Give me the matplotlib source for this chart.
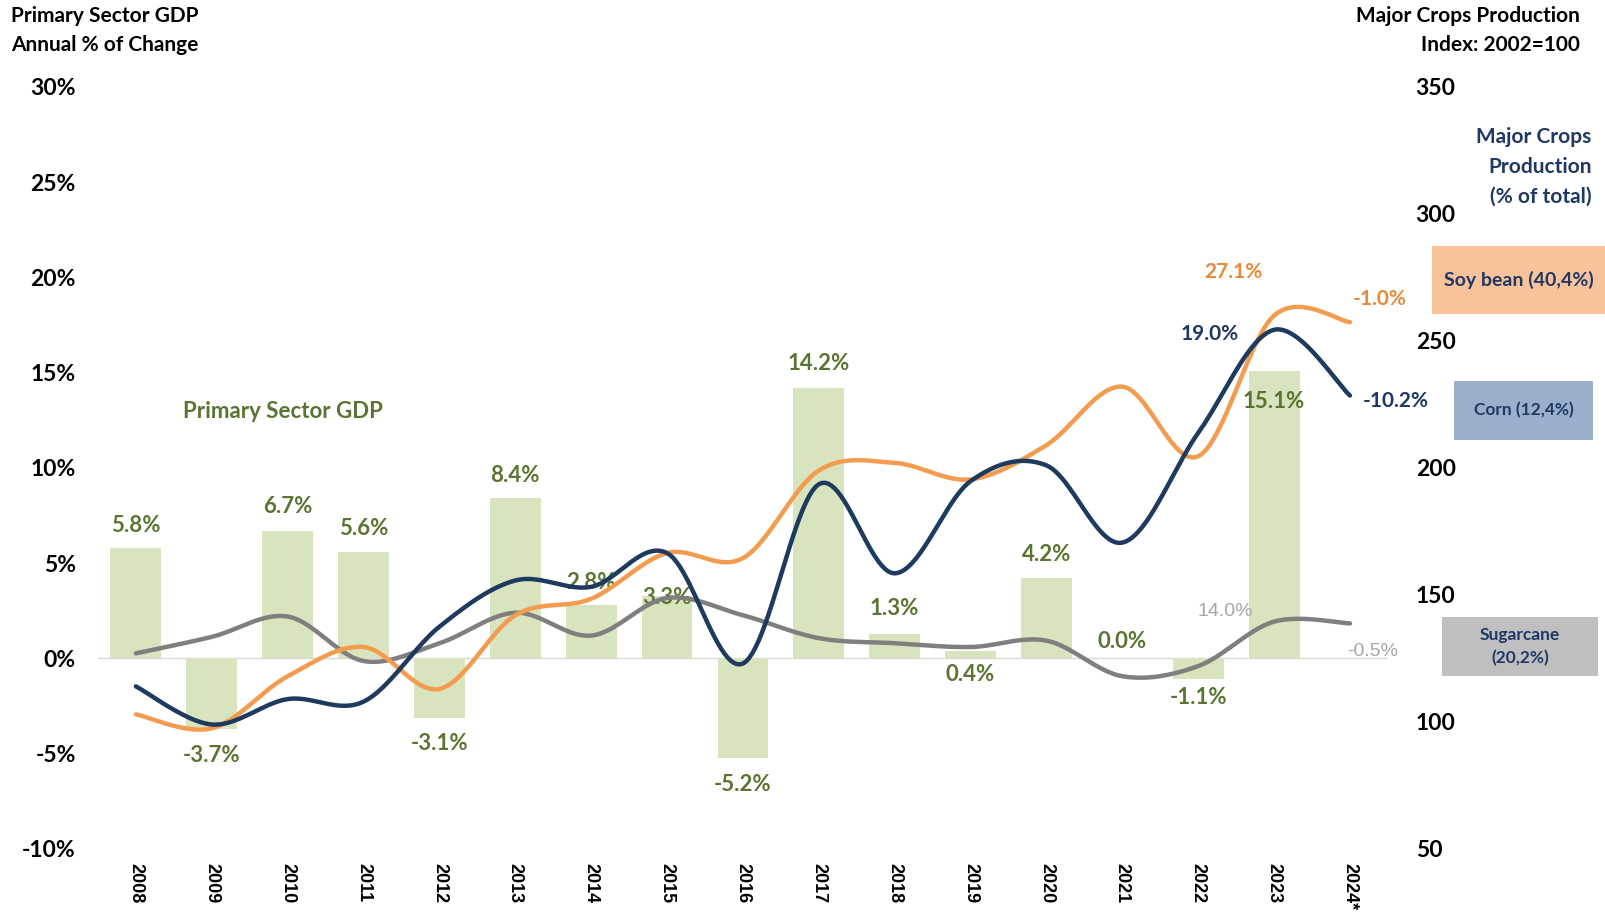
import numpy as np
import matplotlib.pyplot as plt
from matplotlib.patches import Rectangle

years = ["2008", "2009", "2010", "2011", "2012", "2013", "2014", "2015", "2016",
         "2017", "2018", "2019", "2020", "2021", "2022", "2023", "2024*"]
gdp = [5.8, -3.7, 6.7, 5.6, -3.1, 8.4, 2.8, 3.3, -5.2, 14.2, 1.3, 0.4, 4.2, 0.0, -1.1, 15.1, np.nan]
soy = [103, 97.5, 118, 129.5, 113, 142, 148.5, 166.5, 164.5, 199, 202, 195.5, 209, 232, 204.6, 260, 257.4]
corn = [114, 99, 109, 108, 137.5, 155.7, 153.2, 166.5, 123, 193.6, 158.5, 194.8, 201, 170.6, 213.8, 254.4, 228.5]
sugar = [127, 133.5, 141.5, 124, 131, 143, 134, 148.8, 142, 133, 131, 129.5, 132, 118, 122, 139.5, 138.8]

# label offsets for the bar values (in % points)
gdp_off = [1.2, -1.4, 1.25, 1.2, -1.35, 1.2, 1.2, -0.1, -1.4, 1.3, 1.3, -1.25, 1.28, 0.9, -0.95, -1.6]

GREEN = "#D7E4BD"
OLIVE = "#5A7432"
ORANGE = "#F39C4F"
NAVY = "#1F3A5F"
GRAY = "#7F7F7F"
TXTNAVY = "#1F3864"


def smooth(x, y, n=25):
    pts = np.column_stack([x, y]).astype(float)
    out = []
    for i in range(len(pts) - 1):
        p0 = pts[max(i - 1, 0)]
        p1 = pts[i]
        p2 = pts[i + 1]
        p3 = pts[min(i + 2, len(pts) - 1)]
        c1 = p1 + (p2 - p0) / 6
        c2 = p2 - (p3 - p1) / 6
        t = np.linspace(0, 1, n)[:, None]
        seg = (1 - t) ** 3 * p1 + 3 * (1 - t) ** 2 * t * c1 + 3 * (1 - t) * t ** 2 * c2 + t ** 3 * p2
        out.append(seg if i == 0 else seg[1:])
    return np.vstack(out)


plt.rcParams['font.family'] = ['Lato', 'DejaVu Sans']

fig = plt.figure(figsize=(16.06, 9.17), dpi=100)
ax = fig.add_axes([0.061, 0.0742, 0.8032, 0.831])
x = np.arange(len(years))

ax.axhline(0, color="#D9D9D9", lw=1, zorder=1)
ax.bar(x, gdp, width=0.67, color=GREEN, zorder=2)
for i, v in enumerate(gdp[:-1]):
    ax.text(x[i], v + gdp_off[i], f"{v:.1f}%", ha="center", va="center",
            fontsize=16, fontweight="bold", color=OLIVE, zorder=6)
ax.text(1.94, 12.96, "Primary Sector GDP", ha="center", va="center",
        fontsize=16, fontweight="bold", color=OLIVE)

ax.set_ylim(-10, 30)
ax.set_yticks(np.arange(-10, 31, 5))
ax.set_yticklabels([f"{v}%" for v in range(-10, 31, 5)], fontsize=16.5, fontweight="bold")
ax.set_xlim(-0.5, len(years) - 0.5)
ax.set_xticks(x)
ax.set_xticklabels(years, rotation=270, fontsize=13, fontweight="bold", family="Liberation Sans")
ax.tick_params(axis="both", length=0)
ax.tick_params(axis="y", pad=16)
ax.tick_params(axis="x", pad=10)
for s in ax.spines.values():
    s.set_visible(False)

ax2 = ax.twinx()
for vals, col in [(sugar, GRAY), (soy, ORANGE), (corn, NAVY)]:
    c = smooth(x, vals)
    ax2.plot(c[:, 0], c[:, 1], color=col, lw=3.2, solid_capstyle="round", zorder=4)
ax2.set_ylim(50, 350)
ax2.set_yticks(np.arange(50, 351, 50))
ax2.set_yticklabels([str(v) for v in range(50, 351, 50)], fontsize=16.5, fontweight="bold")
ax2.tick_params(axis="y", length=0, pad=20)
for s in ax2.spines.values():
    s.set_visible(False)

# line labels
ax2.text(x[15] - 0.53, soy[15] + 17, "27.1%", ha="center", va="center", fontsize=15, fontweight="bold", color="#E8893A")
ax2.text(x[16] + 0.39, soy[16] + 9, "-1.0%", ha="center", va="center", fontsize=15, fontweight="bold", color="#E8893A")
ax2.text(x[15] - 0.85, corn[15] - 1.6, "19.0%", ha="center", va="center", fontsize=15, fontweight="bold", color=TXTNAVY)
ax2.text(x[16] + 0.6, corn[16] - 2, "-10.2%", ha="center", va="center", fontsize=15, fontweight="bold", color=TXTNAVY)
ax2.text(x[15] - 0.64, sugar[15] + 4, "14.0%", ha="center", va="center", fontsize=14, color="#A6A6A6", family="Liberation Sans")
ax2.text(x[16] + 0.3, sugar[16] - 11, "-0.5%", ha="center", va="center", fontsize=14, color="#A6A6A6", family="Liberation Sans")

# titles
fig.text(0.007, 0.993, "Primary Sector GDP\nAnnual % of Change", ha="left", va="top",
         fontsize=15, fontweight="bold", linespacing=1.55)
fig.text(0.984, 0.993, "Major Crops Production\nIndex: 2002=100", ha="right", va="top",
         fontsize=15, fontweight="bold", linespacing=1.55)
fig.text(0.991, 0.818, "Major Crops\nProduction\n(% of total)", ha="right", va="center",
         fontsize=15, fontweight="bold", color=TXTNAVY, linespacing=1.6)

# crop share boxes
W, H = 1606, 917
boxes = [((1432, 246, 1606, 314), "#F8C39B", "Soy bean (40,4%)", 14),
         ((1454, 381, 1593, 440), "#9AAFCB", "Corn (12,4%)", 12.5),
         ((1442, 617, 1598, 676), "#BFBFBF", "Sugarcane\n(20,2%)", 12.5)]
for (x0, y0, x1, y1), col, lab, fs in boxes:
    fig.patches.append(Rectangle((x0 / W, 1 - y1 / H), (x1 - x0) / W, (y1 - y0) / H,
                                 transform=fig.transFigure, facecolor=col, edgecolor="none"))
    fig.text((x0 + x1) / 2 / W, 1 - (y0 + y1) / 2 / H, lab, ha="center", va="center",
             fontsize=fs, fontweight="bold", color=TXTNAVY, linespacing=1.5)

fig.savefig("out.png", dpi=100)
